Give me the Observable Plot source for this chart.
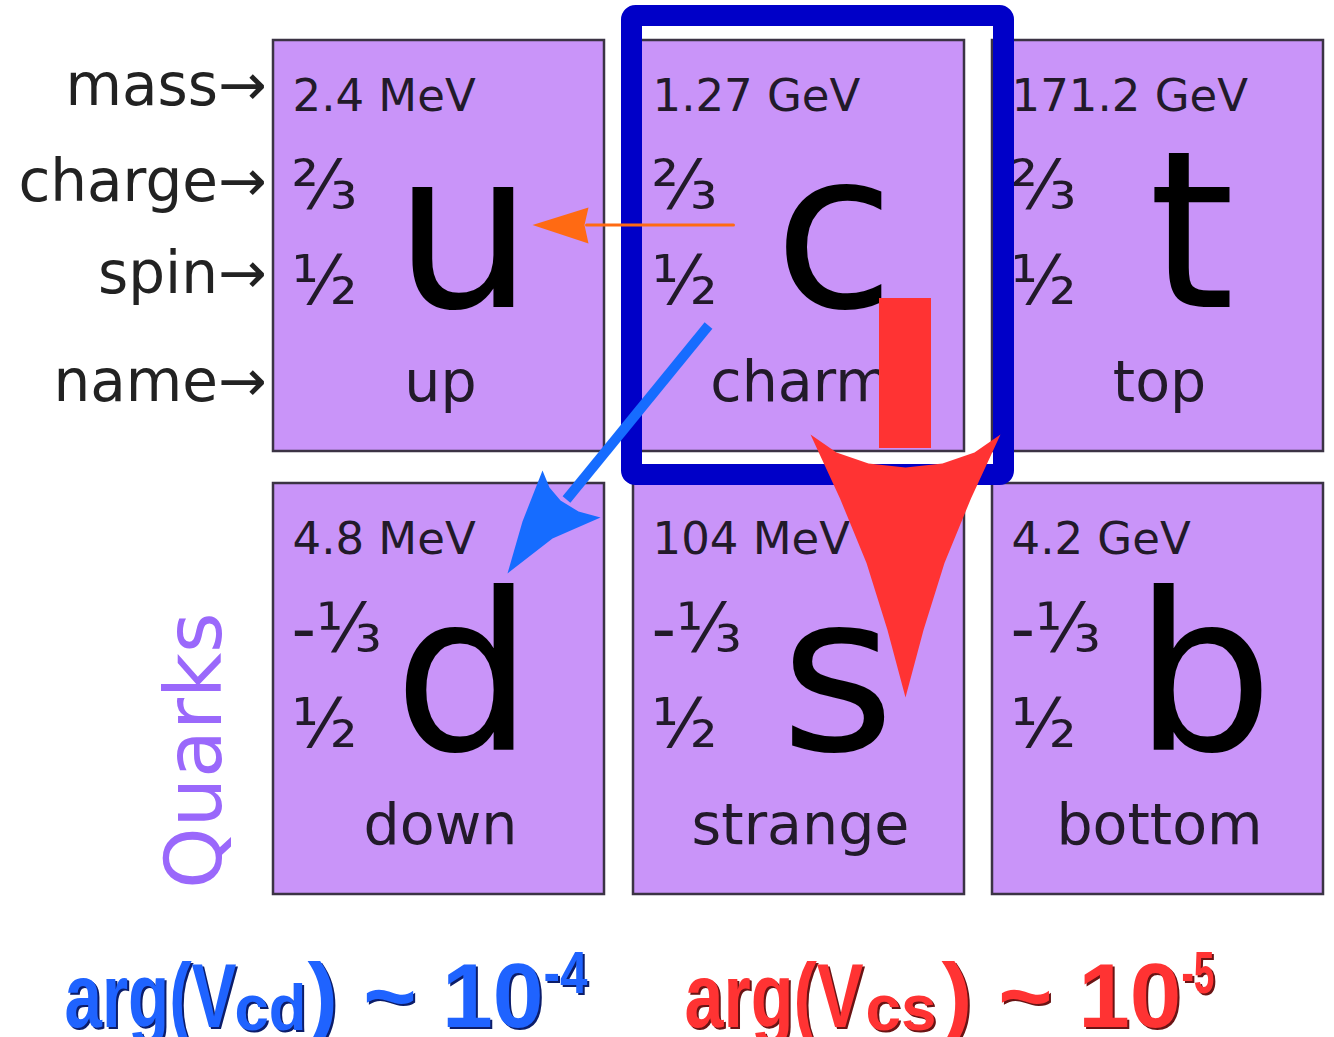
<!DOCTYPE html>
<html>
<head>
<meta charset="utf-8">
<script src="https://cdn.jsdelivr.net/npm/d3@7"></script>
<script src="https://cdn.jsdelivr.net/npm/@observablehq/plot@0.6"></script>
<style>
  html, body { margin: 0; padding: 0; background: #fff; }
  #chart svg { display: block; }
</style>
</head>
<body>
<div id="chart"></div>
<script>
// ---------------- data ----------------
const rowLabels   = ["mass→", "charge→", "spin→", "name→"];
const symbols     = ["u", "c", "t", "d", "s", "b"];
const names       = ["up", "charm", "top", "down", "strange", "bottom"];
const masses      = ["2.4 MeV", "1.27 GeV", "171.2 GeV", "4.8 MeV", "104 MeV", "4.2 GeV"];
const charges     = ["⅔", "⅔", "⅔", "-⅓", "-⅓", "-⅓"];
const spins       = ["½", "½", "½", "½", "½", "½"];
const generations = [1, 2, 3, 1, 2, 3];
const types       = ["up", "up", "up", "down", "down", "down"];
const groupLabel  = ["Quarks"];
const formulaBase = ["arg(V", "arg(V"];
const formulaSub  = ["cd", "cs"];
const formulaTail = [") ~ 10", ") ~ 10"];
const formulaSup  = ["-4", "-5"];

// ---------------- layout (diagram units, 1 unit = 1 px) ----------------
const W = 1334, H = 1037;
const colLeft = {1: 273, 2: 633, 3: 992};
const rowTop = {up: 40, down: 483};
const cellW = 331, cellH = 411;
const symbolDX = {u: 190, c: 201, t: 199, d: 190, s: 204, b: 211};
const rowLabelX = 266, rowLabelY = [104, 200, 292, 400];
const quarksPos = {x: 220, y: 750};
const frame = {x1: 631.5, x2: 1003.5, y1: 15.5, y2: 474.5};
const orangeLine = [{x: 733, y: 224.5}, {x: 586, y: 224.5}];
const orangeHead = [{x: 532, y: 224.5}, {x: 588, y: 207}, {x: 584, y: 224.5}, {x: 588, y: 243}];
const blueLine = [{x: 708, y: 325}, {x: 566, y: 499}];
const blueHead = [{x: 507, y: 573}, {x: 522, y: 521}, {x: 542, y: 470}, {x: 549, y: 487}, {x: 560, y: 500},
                  {x: 578, y: 511}, {x: 600, y: 517}, {x: 552, y: 538}];
const redBar = {x1: 879, x2: 931, y1: 298, y2: 448};
const redHead = [{x: 810, y: 434}, {x: 836, y: 452}, {x: 868, y: 463}, {x: 905, y: 467}, {x: 942, y: 463},
                 {x: 974, y: 452}, {x: 1000, y: 434}, {x: 970.6, y: 497.7}, {x: 944, y: 562.4},
                 {x: 923.1, y: 629.2}, {x: 905, y: 697}, {x: 886.9, y: 629.2}, {x: 866, y: 562.4},
                 {x: 839.4, y: 497.7}];
const fX = {base: [64, 684], sub: [234, 865], tail: [307, 941], sup: [543, 1181]};
const fW = {base: [172, 179], sub: [72, 71], tail: [236, 240], sup: [44, 33]};
const fColor = ["#1f63ff", "#ff3333"], fShadow = ["#0c1d6a", "#6a1414"];

const cells = symbols.map((s, i) => ({
  symbol: s, name: names[i], mass: masses[i], charge: charges[i], spin: spins[i],
  gen: generations[i], type: types[i]
}));
const L = d => colLeft[d.gen], T = d => rowTop[d.type];
const formula = formulaBase.map((b, i) => ({i, base: b, sub: formulaSub[i], tail: formulaTail[i], sup: formulaSup[i]}));

const cellFont = "DejaVu Sans, Verdana, sans-serif";
const fFont = "Liberation Sans, Arial, sans-serif";

function formulaMark(key, y, size) {
  return Plot.text(formula, {x: d => fX[key][d.i], y: () => y, text: key, textAnchor: "start",
    lineAnchor: "bottom", fontSize: size, fontWeight: "bold", fontFamily: fFont, fill: d => fColor[d.i]});
}

const chart = Plot.plot({
  width: W, height: H, margin: 0,
  x: {domain: [0, W], range: [0, W], axis: null},
  y: {domain: [0, H], range: [0, H], axis: null},
  color: {type: "identity"},
  style: {background: "#fff", overflow: "visible"},
  marks: [
    // cells
    Plot.rect(cells, {x1: L, x2: d => L(d) + cellW, y1: T, y2: d => T(d) + cellH,
      fill: "#c994f9", stroke: "#3b3344", strokeWidth: 2.5}),
    // mass / charge / spin
    Plot.text(cells, {x: d => L(d) + 19, y: d => T(d) + 70, text: "mass", textAnchor: "start",
      lineAnchor: "bottom", fontSize: 45, fontFamily: cellFont, fill: "#221a2a"}),
    Plot.text(cells, {x: d => L(d) + 18, y: d => T(d) + 168, text: "charge", textAnchor: "start",
      lineAnchor: "bottom", fontSize: 68, fontFamily: cellFont, fill: "#221a2a"}),
    Plot.text(cells, {x: d => L(d) + 18, y: d => T(d) + 263, text: "spin", textAnchor: "start",
      lineAnchor: "bottom", fontSize: 68, fontFamily: cellFont, fill: "#221a2a"}),
    // big symbol
    Plot.text(cells, {x: d => L(d) + symbolDX[d.symbol], y: d => T(d) + 266, text: "symbol", textAnchor: "middle",
      lineAnchor: "bottom", fontSize: 220, fontFamily: cellFont, fill: "#000"}),
    // name
    Plot.text(cells, {x: d => L(d) + 167, y: d => T(d) + 360, text: "name", textAnchor: "middle",
      lineAnchor: "bottom", fontSize: 57, fontFamily: cellFont, fill: "#221a2a"}),
    // row labels
    Plot.text(rowLabels, {x: () => rowLabelX, y: (d, i) => rowLabelY[i], text: d => d, textAnchor: "end",
      lineAnchor: "bottom", fontSize: 58, fontFamily: cellFont, fill: "#222"}),
    // group label
    Plot.text(groupLabel, {x: () => quarksPos.x, y: () => quarksPos.y, text: d => d, rotate: -90,
      textAnchor: "middle", lineAnchor: "bottom", fontSize: 78, fontFamily: cellFont, fill: "#9a68fb"}),
    // highlight frame
    Plot.rect([frame], {x1: "x1", x2: "x2", y1: "y1", y2: "y2", fill: "none", stroke: "#0000c8",
      strokeWidth: 21, rx: 4}),
    // orange arrow
    Plot.line(orangeLine, {x: "x", y: "y", stroke: "#ff6a13", strokeWidth: 3}),
    Plot.line(orangeHead, {x: "x", y: "y", fill: "#ff6a13", stroke: "none"}),
    // blue arrow
    Plot.line(blueLine, {x: "x", y: "y", stroke: "#166cff", strokeWidth: 10, strokeLinecap: "butt"}),
    Plot.line(blueHead, {x: "x", y: "y", fill: "#166cff", stroke: "none"}),
    // red arrow
    Plot.rect([redBar], {x1: "x1", x2: "x2", y1: "y1", y2: "y2", fill: "#ff3333"}),
    Plot.line(redHead, {x: "x", y: "y", fill: "#ff3333", stroke: "none"}),
    // formulas
    formulaMark("base", 1026, 90),
    formulaMark("sub", 1029, 64),
    formulaMark("tail", 1026, 90),
    formulaMark("sup", 992, 60)
  ]
});

// fit each formula piece to its extent in the reference and give it the dark offset shadow
const pieceSets = {base: formulaBase, sub: formulaSub, tail: formulaTail, sup: formulaSup};
for (const key of Object.keys(pieceSets)) {
  let j = 0;
  chart.querySelectorAll("text").forEach(t => {
    if (pieceSets[key].includes(t.textContent)) {
      const i = j % 2;
      t.setAttribute("textLength", fW[key][i]);
      t.setAttribute("lengthAdjust", "spacingAndGlyphs");
      t.style.filter = `drop-shadow(2.5px 2.5px 0 ${fShadow[i]})`;
      j++;
    }
  });
}

document.getElementById("chart").append(chart);
</script>
</body>
</html>
